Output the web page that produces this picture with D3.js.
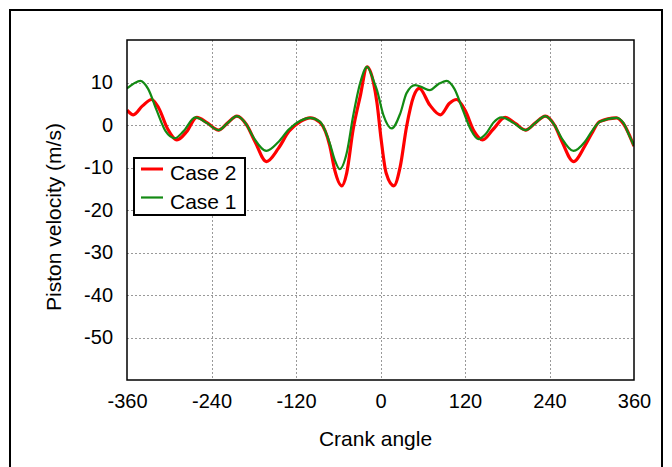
<!DOCTYPE html>
<html>
<head>
<meta charset="utf-8">
<script src="https://cdn.jsdelivr.net/npm/d3@7"></script>
<style>
  body { margin: 0; background: #fff; }
  svg { display: block; font-family: "Liberation Sans", Arial, sans-serif; }
</style>
</head>
<body>
<div id="chart"></div>
<script>
// crank angle (deg) and piston velocity (m/s)
const case1Angle = [-360, -350, -341, -330, -318, -305, -292, -280, -263, -247, -230, -217, -204, -192, -180, -162, -145, -130, -114, -100, -86, -72, -65, -58, -48, -39, -29, -19, -10, -5, 4, 16, 28, 37, 49, 60, 70, 82, 94, 105, 117, 128, 139, 150, 160, 172, 189, 206, 220, 234, 245, 257, 274, 290, 300, 312, 335, 345, 352, 360];
const case1Vel = [8.6, 9.8, 10.4, 8.5, 3.5, -1.5, -3.1, -1.5, 1.8, 0.5, -1.2, 0.5, 2.1, 0.5, -3.0, -6.1, -4.0, -1.0, 1.0, 1.7, 0.8, -4.3, -8.2, -10.4, -6.6, 2.0, 9.8, 13.7, 10.5, 8.2, 2.4, -0.8, 2.7, 7.5, 9.4, 8.8, 8.2, 9.6, 10.4, 8.5, 3.5, -1.0, -3.3, -2.0, 0.5, 1.8, 0.5, -1.2, 0.5, 2.1, 0.5, -3.0, -6.1, -4.0, -1.5, 0.8, 1.7, 0.5, -2.0, -4.9];

const case2Angle = [-360, -351, -338, -325, -315, -302, -289, -275, -261, -246, -230, -217, -204, -190, -178, -162, -145, -130, -114, -100, -86, -72, -65, -55, -48, -39, -29, -19, -10, -5, 1, 8, 19, 28, 37, 47, 55, 70, 85, 98, 108, 120, 133, 145, 160, 177, 192, 206, 220, 234, 247, 258, 274, 290, 300, 311, 335, 345, 360];
const case2Vel = [3.5, 2.4, 4.5, 6.0, 4.0, -1.0, -3.5, -1.5, 1.8, 0.5, -1.2, 0.5, 2.1, 0.0, -4.0, -8.6, -5.5, -1.5, 0.8, 1.7, 0.6, -4.9, -10.6, -14.3, -11.3, -1.2, 6.6, 13.7, 10.0, 5.2, -3.5, -11.3, -14.3, -9.8, -0.4, 6.7, 8.6, 4.7, 2.4, 5.1, 6.0, 3.5, -1.5, -3.5, -1.0, 1.8, 0.3, -1.2, 0.5, 2.1, 0.0, -4.0, -8.6, -5.0, -2.0, 0.8, 1.7, 0.3, -5.0];

const xTicks = [-360, -240, -120, 0, 120, 240, 360];
const yTicks = [10, 0, -10, -20, -30, -40, -50];
const seriesNames = ["Case 2", "Case 1"];
const seriesColors = ["#ff0000", "#138a13"];

const W = 672, H = 467;
const plot = { left: 127, right: 634, top: 40, bottom: 380 };

const svg = d3.select("#chart").append("svg")
  .attr("width", W).attr("height", H);

// outer frame (runs off the bottom of the image)
svg.append("rect")
  .attr("x", 10).attr("y", 10)
  .attr("width", 652).attr("height", 470)
  .attr("fill", "none").attr("stroke", "#000").attr("stroke-width", 2);

const x = d3.scaleLinear().domain([-360, 360]).range([plot.left, plot.right]);
const y = d3.scaleLinear().domain([-60, 20]).range([plot.bottom, plot.top]);

// grid
const grid = svg.append("g").attr("stroke", "#999").attr("stroke-width", 1)
  .attr("stroke-dasharray", "2,2");
grid.selectAll(".gy").data(yTicks).join("line")
  .attr("x1", plot.left).attr("x2", plot.right)
  .attr("y1", d => Math.round(y(d)) + 0.5).attr("y2", d => Math.round(y(d)) + 0.5);
grid.selectAll(".gx").data(xTicks.slice(1, -1)).join("line")
  .attr("y1", plot.top).attr("y2", plot.bottom)
  .attr("x1", d => Math.round(x(d)) + 0.5).attr("x2", d => Math.round(x(d)) + 0.5);

// tick labels (plain hyphen minus like the original)
const fmt = d => String(d);
const xAxis = svg.append("g")
  .attr("transform", `translate(0,${plot.bottom})`)
  .call(d3.axisBottom(x).tickValues(xTicks).tickFormat(fmt).tickSize(0).tickPadding(14));
const yAxis = svg.append("g")
  .attr("transform", `translate(${plot.left},0)`)
  .call(d3.axisLeft(y).tickValues(yTicks).tickFormat(fmt).tickSize(0).tickPadding(14));
[xAxis, yAxis].forEach(a => {
  a.select(".domain").remove();
  a.selectAll("text").attr("font-size", 20).attr("fill", "#000")
    .attr("font-family", "'Liberation Sans', Arial, sans-serif");
});

const line = d3.line().curve(d3.curveMonotoneX)
  .x(d => x(d[0])).y(d => y(d[1]));

svg.append("clipPath").attr("id", "clip").append("rect")
  .attr("x", plot.left).attr("y", plot.top)
  .attr("width", plot.right - plot.left).attr("height", plot.bottom - plot.top);

const case1 = d3.zip(case1Angle, case1Vel);
const case2 = d3.zip(case2Angle, case2Vel);

svg.append("path").datum(case2)
  .attr("clip-path", "url(#clip)")
  .attr("fill", "none").attr("stroke", seriesColors[0]).attr("stroke-width", 3.2)
  .attr("d", line);
svg.append("path").datum(case1)
  .attr("clip-path", "url(#clip)")
  .attr("fill", "none").attr("stroke", seriesColors[1]).attr("stroke-width", 2.2)
  .attr("d", line);

// plot frame
svg.append("rect")
  .attr("x", plot.left).attr("y", plot.top)
  .attr("width", plot.right - plot.left).attr("height", plot.bottom - plot.top)
  .attr("fill", "none").attr("stroke", "#000").attr("stroke-width", 1.5);

// axis titles
svg.append("text")
  .attr("x", 375.5).attr("y", 446)
  .attr("text-anchor", "middle").attr("font-size", 21)
  .text("Crank angle");
svg.append("text")
  .attr("transform", "translate(61,217) rotate(-90)")
  .attr("text-anchor", "middle").attr("font-size", 21)
  .text("Piston velocity (m/s)");

// legend
const lg = svg.append("g").attr("transform", "translate(134,158)");
lg.append("rect").attr("width", 111).attr("height", 57)
  .attr("fill", "#fff").attr("stroke", "#000").attr("stroke-width", 2);
seriesNames.forEach((name, i) => {
  const yy = 11 + i * 28.5;
  lg.append("line").attr("x1", 7).attr("x2", 29).attr("y1", yy).attr("y2", yy)
    .attr("stroke", seriesColors[i]).attr("stroke-width", i === 0 ? 3 : 2.2);
  lg.append("text").attr("x", 36).attr("y", yy + 11)
    .attr("font-size", 21).text(name);
});
</script>
</body>
</html>
